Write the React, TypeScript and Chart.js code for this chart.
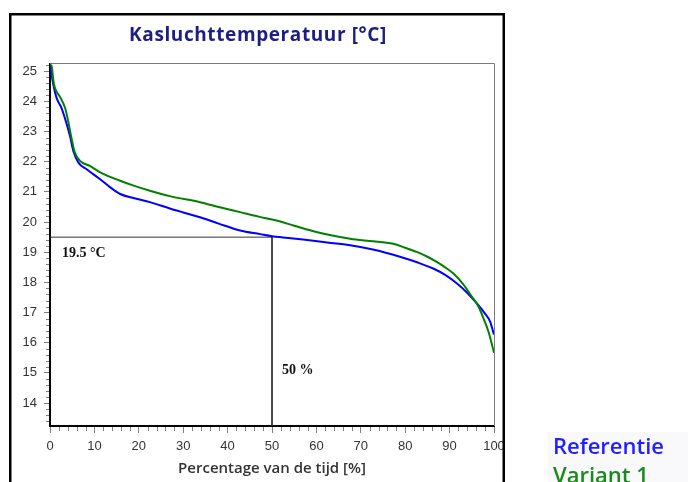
import React, { useEffect, useRef } from 'react';
import { Chart, registerables } from 'chart.js';

Chart.register(...registerables);

// ---- data ----
const TITLE = 'Kasluchttemperatuur [°C]';
const X_TITLE = 'Percentage van de tijd [%]';
const SERIES_NAMES = ['Referentie', 'Variant 1'];

const refX = [0, 0.4, 0.75, 1.5, 2.6, 3.8, 4.5, 5.25, 6.4, 8.25, 11.3, 13.5, 15.8, 19, 22.5, 27, 30, 33.8, 38, 42.8, 47.3, 50, 52.5, 57, 62, 67.6, 73, 78.8, 83, 86.3, 89, 91.6, 94, 96.1, 97.8, 99.1, 100];
const refY = [25.2, 24.85, 24.55, 24.11, 23.78, 23.23, 22.85, 22.36, 21.97, 21.75, 21.42, 21.16, 20.93, 20.79, 20.66, 20.45, 20.32, 20.16, 19.95, 19.72, 19.6, 19.53, 19.49, 19.42, 19.33, 19.23, 19.08, 18.85, 18.65, 18.46, 18.25, 17.97, 17.65, 17.31, 17.0, 16.71, 16.27];

const varX = [0, 0.4, 0.75, 1.1, 2.25, 3.4, 4.1, 4.9, 5.6, 6.75, 9, 11.3, 15.8, 19, 22.5, 27, 33.8, 38, 42.8, 47, 51, 55, 60, 63, 67.6, 72, 77.3, 80, 82.6, 85, 87.1, 89, 90.8, 93, 95, 96.5, 97.6, 98.8, 100];
const varY = [25.23, 25.15, 24.7, 24.45, 24.15, 23.78, 23.34, 22.74, 22.3, 22.03, 21.86, 21.65, 21.37, 21.2, 21.04, 20.86, 20.66, 20.5, 20.33, 20.18, 20.05, 19.88, 19.67, 19.57, 19.45, 19.37, 19.28, 19.15, 19.01, 18.85, 18.68, 18.5, 18.3, 17.95, 17.53, 17.2, 16.82, 16.35, 15.67];

const markerPercent = 50;
const markerTemp = 19.5;
const markerTempLabel = '19.5 °C';
const markerPercentLabel = '50 %';

const X_MIN = 0;
const X_MAX = 100;
const X_STEP = 10;
const X_MINOR = 2;
const Y_MIN = 13.24;
const Y_MAX = 25.23;
const Y_STEP = 1;
const Y_MINOR = 0.2;

const BLUE = '#0000ff';
const GREEN = '#008000';

const decorPlugin = {
  id: 'decor',
  afterDraw(chart: any) {
    const { ctx, chartArea: a, scales } = chart;
    const xs = scales.x;
    const ys = scales.y;
    ctx.save();

    // top and right plot border
    ctx.strokeStyle = '#7a7a7a';
    ctx.lineWidth = 1;
    ctx.beginPath();
    ctx.moveTo(a.left, Math.round(a.top) - 0.5);
    ctx.lineTo(Math.round(a.right) + 0.5, Math.round(a.top) - 0.5);
    ctx.lineTo(Math.round(a.right) + 0.5, a.bottom);
    ctx.stroke();

    // minor ticks
    ctx.strokeStyle = '#808080';
    ctx.beginPath();
    for (let v = Math.ceil(Y_MIN / Y_MINOR) * Y_MINOR; v <= Y_MAX + 1e-9; v += Y_MINOR) {
      const r = Math.round(v * 10) / 10;
      if (Math.abs(r - Math.round(r)) < 1e-6) continue;
      const py = Math.round(ys.getPixelForValue(r)) + 0.5;
      ctx.moveTo(a.left - 4, py);
      ctx.lineTo(a.left - 1, py);
    }
    for (let v = X_MIN; v <= X_MAX; v += X_MINOR) {
      if (v % X_STEP === 0) continue;
      const px = Math.round(xs.getPixelForValue(v)) + 0.5;
      ctx.moveTo(px, a.bottom + 1);
      ctx.lineTo(px, a.bottom + 5);
    }
    ctx.stroke();

    // marker labels
    ctx.fillStyle = '#111';
    ctx.font = 'bold 14px "Liberation Serif"';
    ctx.textAlign = 'left';
    ctx.textBaseline = 'middle';
    ctx.fillText(markerTempLabel, xs.getPixelForValue(X_MIN) + 12, ys.getPixelForValue(markerTemp) + 16);
    ctx.fillText(markerPercentLabel, xs.getPixelForValue(markerPercent) + 10, ys.getPixelForValue(15) - 3);

    // title
    ctx.fillStyle = '#1e1e82';
    ctx.font = 'bold 19px "Open Sans"';
    ctx.textAlign = 'center';
    try { (ctx as any).letterSpacing = '0.6px'; } catch (e) { /* ignore */ }
    ctx.fillText(TITLE, 258, 36);
    try { (ctx as any).letterSpacing = '0px'; } catch (e) { /* ignore */ }

    // outer frame
    ctx.fillStyle = '#000';
    ctx.fillRect(9, 13, 2.5, 482);
    ctx.fillRect(9, 13, 496, 2.5);
    ctx.fillRect(502.5, 13, 2.5, 482);
    ctx.restore();
  },
};

export default function App() {
  const canvasRef = useRef<HTMLCanvasElement | null>(null);

  useEffect(() => {
    const canvas = canvasRef.current;
    if (!canvas) return;
    const chart = new Chart(canvas, {
      type: 'line',
      data: {
        datasets: [
          {
            label: SERIES_NAMES[1],
            data: varX.map((x, i) => ({ x, y: varY[i] })),
            borderColor: GREEN,
            borderWidth: 2,
            pointRadius: 0,
            cubicInterpolationMode: 'monotone',
            order: 0,
          },
          {
            label: SERIES_NAMES[0],
            data: refX.map((x, i) => ({ x, y: refY[i] })),
            borderColor: BLUE,
            borderWidth: 2,
            pointRadius: 0,
            cubicInterpolationMode: 'monotone',
            order: 1,
          },
          {
            label: 'marker',
            data: [
              { x: X_MIN, y: markerTemp },
              { x: markerPercent, y: markerTemp },
              { x: markerPercent, y: Y_MIN },
            ],
            borderColor: '#333333',
            borderWidth: 1,
            pointRadius: 0,
            tension: 0,
            order: 2,
          },
        ],
      } as any,
      options: {
        responsive: false,
        animation: false,
        devicePixelRatio: 1,
        layout: { padding: { top: 64.3, left: 0, right: 194, bottom: 0 } },
        plugins: {
          legend: { display: false },
          tooltip: { enabled: false },
          title: { display: false },
        },
        scales: {
          x: {
            type: 'linear',
            min: X_MIN,
            max: X_MAX,
            afterFit: (s: any) => { s.height = 56; },
            ticks: {
              stepSize: X_STEP,
              color: '#333',
              padding: 6,
              font: { family: '"Liberation Sans"', size: 13 },
              maxRotation: 0,
            },
            grid: {
              display: true,
              drawOnChartArea: false,
              drawTicks: true,
              tickLength: 7,
              tickColor: '#808080',
            },
            border: { display: true, color: '#000', width: 2 },
            title: {
              display: true,
              text: X_TITLE,
              color: '#333',
              font: { family: '"Open Sans"', size: 15, weight: '600' },
              padding: { top: 0, bottom: 4 },
            },
          },
          y: {
            type: 'linear',
            min: Y_MIN,
            max: Y_MAX,
            afterFit: (s: any) => { s.width = 50; },
            ticks: {
              stepSize: Y_STEP,
              includeBounds: false,
              color: '#333',
              padding: 7,
              font: { family: '"Liberation Sans"', size: 13 },
            },
            grid: {
              display: true,
              drawOnChartArea: false,
              drawTicks: true,
              tickLength: 6,
              tickColor: '#808080',
            },
            border: { display: true, color: '#000', width: 2 },
          },
        },
      } as any,
      plugins: [decorPlugin],
    });
    return () => chart.destroy();
  }, []);

  return (
    <div style={{ position: 'fixed', left: 0, top: 0, width: 688, height: 482, background: '#fff', overflow: 'hidden' }}>
      <canvas ref={canvasRef} width={688} height={482} style={{ position: 'absolute', left: 0, top: 0, width: 688, height: 482 }} />
      <div style={{ position: 'absolute', left: 548, top: 432, width: 140, height: 50, background: '#f9f9fc' }} />
      <div style={{ position: 'absolute', left: 553, top: 431, font: '600 22px "Open Sans"', lineHeight: '29px', whiteSpace: 'nowrap' }}>
        <div style={{ color: '#1f1fff' }}>{SERIES_NAMES[0]}</div>
        <div style={{ color: '#1a8a1a' }}>{SERIES_NAMES[1]}</div>
      </div>
    </div>
  );
}
